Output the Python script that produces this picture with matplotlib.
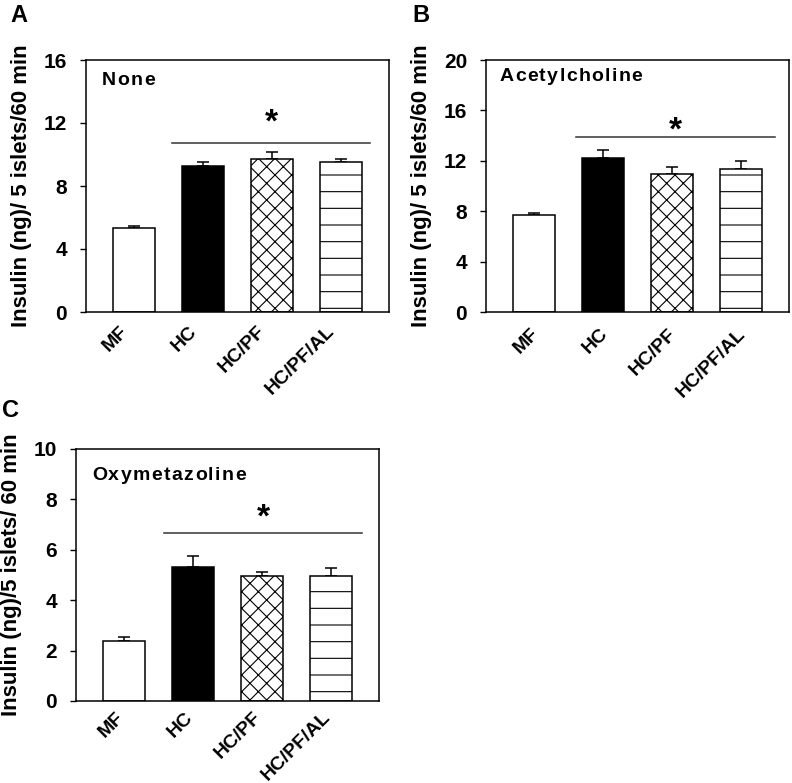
import matplotlib
matplotlib.use("Agg")
import matplotlib.pyplot as plt
import numpy as np
from matplotlib.transforms import ScaledTranslation
from matplotlib.textpath import TextPath
from matplotlib.font_manager import FontProperties

plt.rcParams['font.family'] = ['Liberation Sans', 'DejaVu Sans']
plt.rcParams['font.weight'] = 'bold'
plt.rcParams['hatch.linewidth'] = 0.8
plt.rcParams['hatch.color'] = 'black'

categories = ["MF", "HC", "HC/PF", "HC/PF/AL"]

none_vals = [5.35, 9.29, 9.69, 9.52]
none_err = [0.13, 0.25, 0.49, 0.17]

ach_vals = [7.70, 12.25, 10.95, 11.37]
ach_err = [0.13, 0.58, 0.58, 0.63]

oxy_vals = [2.39, 5.30, 4.95, 4.95]
oxy_err = [0.16, 0.45, 0.18, 0.34]

panel_titles = ["None", "Acetylcholine", "Oxymetazoline"]
panel_letters = ["A", "B", "C"]
ylabels = ["Insulin (ng)/ 5 islets/60 min", "Insulin (ng)/ 5 islets/60 min",
           "Insulin (ng)/5 islets/ 60 min"]
yticks_list = [[0, 4, 8, 12, 16], [0, 4, 8, 12, 16, 20], [0, 2, 4, 6, 8, 10]]
sig_y = [10.75, 13.9, 6.68]
sig_x = [(0.55, 3.43), (0.60, 3.49), (0.58, 3.45)]
star_y = [12.4, 14.84, 7.51]

W, H = 792, 783
fig = plt.figure(figsize=(W / 100, H / 100), dpi=100)

# axes rectangles in pixels: left, top, right, bottom
rects = [(86, 60, 389, 312), (486, 60, 789, 312), (76, 449, 379, 701)]
title_pos = [(0.053, 0.917), (0.044, 0.934), (0.052, 0.893)]
label_off = [(-9, 12), (2, 14), (-3, 10)]  # x offset px, pad pt
letter_pos = [(10, 15), (412, 15), (2, 410)]

faces = ['white', 'black', 'white', 'white']
hatches = [None, None, 'xx', '-']

datasets = [(none_vals, none_err), (ach_vals, ach_err), (oxy_vals, oxy_err)]


def tracked_text(ax, x, y, s, size, track_px):
    """Draw text with extra letter spacing (tracking), in axes coords."""
    fp = FontProperties(family='Liberation Sans', weight='bold', size=size)
    ref = TextPath((0, 0), "||", prop=fp).get_extents().width
    for k, ch in enumerate(s):
        if ch == ' ':
            continue
        prefix = s[:k]
        if prefix:
            adv = TextPath((0, 0), "|" + prefix + "|", prop=fp).get_extents().width - ref
        else:
            adv = 0.0
        off_px = adv * 100 / 72 + k * track_px
        tr = ax.transAxes + ScaledTranslation(off_px / 100, 0, fig.dpi_scale_trans)
        ax.text(x, y, ch, transform=tr, fontproperties=fp, ha='left', va='center')


for i, (vals, errs) in enumerate(datasets):
    l, t, r, b = rects[i]
    ax = fig.add_axes([l / W, 1 - b / H, (r - l) / W, (b - t) / H])
    x = np.arange(len(categories))
    bars = ax.bar(x, vals, width=0.61, color=faces, edgecolor='black',
                  linewidth=1.1, zorder=2)
    for bar, h in zip(bars, hatches):
        if h:
            bar.set_hatch(h)
    ax.errorbar(x, vals, yerr=[np.zeros(len(vals)), errs], fmt='none',
                ecolor='black', elinewidth=1.1, capsize=4, capthick=1.1, zorder=1)
    yt = yticks_list[i]
    ax.set_ylim(0, yt[-1])
    ax.set_xlim(-0.7, 3.7)
    ax.set_yticks(yt)
    ax.set_yticklabels([str(v) for v in yt], fontsize=15, fontweight='bold')
    ax.tick_params(axis='y', direction='out', length=4.5, width=1, pad=9)
    ax.tick_params(axis='x', length=0, pad=label_off[i][1])
    ax.set_xticks(x)
    ax.set_xticklabels(categories, rotation=45, ha='right', va='center',
                       rotation_mode='anchor', fontsize=14, fontweight='bold')
    for lab in ax.get_xticklabels():
        lab.set_transform(lab.get_transform() +
                          ScaledTranslation(label_off[i][0] / 100, 0, fig.dpi_scale_trans))
    for sp in ax.spines.values():
        sp.set_linewidth(1.1)
    ax.set_ylabel(ylabels[i], fontsize=16, fontweight='bold')
    ax.yaxis.set_label_coords(-0.178, 0.5)
    tracked_text(ax, title_pos[i][0], title_pos[i][1], panel_titles[i], 14, 1.4)
    ax.plot(sig_x[i], [sig_y[i], sig_y[i]], color='#333333', linewidth=1.1)
    star_tr = ax.transData + ScaledTranslation(0, -6 / 100, fig.dpi_scale_trans)
    ax.text(np.mean(sig_x[i]), star_y[i], '*', fontsize=24, fontweight='bold',
            ha='center', va='center', transform=star_tr)
    lx, ly = letter_pos[i]
    fig.text(lx / W, 1 - ly / H, panel_letters[i], fontsize=17, fontweight='bold',
             ha='left', va='center')

fig.savefig("out.png", dpi=100)
